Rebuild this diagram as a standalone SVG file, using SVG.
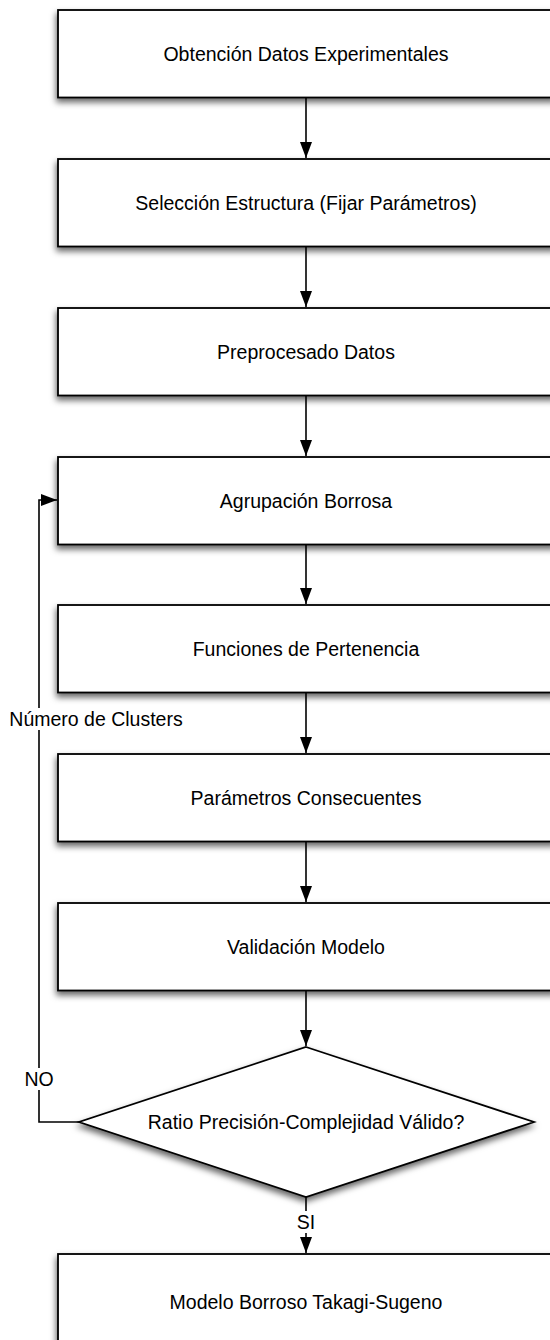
<svg xmlns="http://www.w3.org/2000/svg" width="550" height="1340" viewBox="0 0 550 1340">
<style>
.box{fill:#fff;stroke:#000;stroke-width:1.8;filter:url(#sh)}
.lbl{font-family:"Liberation Sans",Arial,Helvetica,sans-serif;font-size:19.5px;fill:#000;text-anchor:middle;dominant-baseline:central}
.con{fill:none;stroke:#000;stroke-width:1.6;marker-end:url(#ah)}
.bg{fill:#fff}
</style>
<defs>
<filter id="sh" x="-10%" y="-20%" width="120%" height="150%">
<feDropShadow dx="-1" dy="4" stdDeviation="3" flood-color="#000" flood-opacity="0.6"/>
</filter>
<marker id="ah" markerWidth="16" markerHeight="12" refX="16" refY="6" orient="auto" markerUnits="userSpaceOnUse" viewBox="0 0 16 12">
<path d="M0,0 L16,6 L0,12 Z" fill="#000"/>
</marker>
</defs>
<g id="n1"><rect class="box" x="58" y="10" width="498" height="87.5"/><text class="lbl" x="306" y="54">Obtención Datos Experimentales</text></g>
<g id="n2"><rect class="box" x="58" y="159" width="498" height="87.5"/><text class="lbl" x="306" y="203">Selección Estructura (Fijar Parámetros)</text></g>
<g id="n3"><rect class="box" x="58" y="308" width="498" height="87.5"/><text class="lbl" x="306" y="352">Preprocesado Datos</text></g>
<g id="n4"><rect class="box" x="58" y="457" width="498" height="87.5"/><text class="lbl" x="306" y="501">Agrupación Borrosa</text></g>
<g id="n5"><rect class="box" x="58" y="605" width="498" height="87.5"/><text class="lbl" x="306" y="649">Funciones de Pertenencia</text></g>
<g id="n6"><rect class="box" x="58" y="754" width="498" height="87.5"/><text class="lbl" x="306" y="798">Parámetros Consecuentes</text></g>
<g id="n7"><rect class="box" x="58" y="903" width="498" height="87.5"/><text class="lbl" x="306" y="947">Validación Modelo</text></g>
<g id="n8"><polygon class="box" points="306,1047 534,1122 306,1197 79,1122"/><text class="lbl" x="306" y="1122">Ratio Precisión-Complejidad Válido?</text></g>
<g id="n9"><rect class="box" x="58" y="1254" width="498" height="90"/><text class="lbl" x="306" y="1302">Modelo Borroso Takagi-Sugeno</text></g>
<g id="connectors">
<line class="con" x1="306" y1="98" x2="306" y2="158"/>
<line class="con" x1="306" y1="247" x2="306" y2="307"/>
<line class="con" x1="306" y1="396" x2="306" y2="456"/>
<line class="con" x1="306" y1="545" x2="306" y2="604"/>
<line class="con" x1="306" y1="693" x2="306" y2="753"/>
<line class="con" x1="306" y1="842" x2="306" y2="902"/>
<line class="con" x1="306" y1="991" x2="306" y2="1046"/>
<line class="con" x1="306" y1="1197" x2="306" y2="1253"/>
<polyline class="con" points="79,1122 39,1122 39,500 57,500"/>
<rect class="bg" x="22" y="1068" width="36" height="22"/>
<text class="lbl" x="39" y="1079">NO</text>
<rect class="bg" x="7" y="708" width="184" height="22"/>
<text class="lbl" x="96" y="719">Número de Clusters</text>
<rect class="bg" x="290" y="1211" width="32" height="22"/>
<text class="lbl" x="306" y="1222">SI</text>
</g>
</svg>
